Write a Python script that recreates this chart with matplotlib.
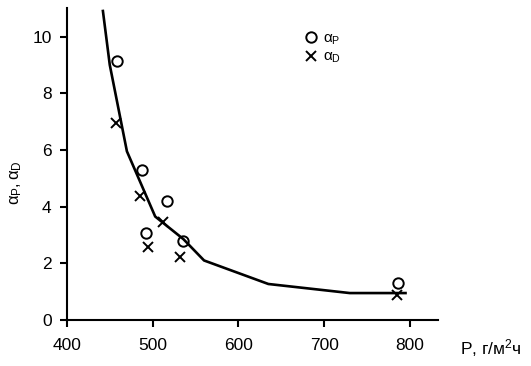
import matplotlib
matplotlib.use("Agg")
import matplotlib.pyplot as plt

plt.rcParams['font.family'] = ['Liberation Sans', 'DejaVu Sans']
plt.rcParams['mathtext.fontset'] = 'custom'
plt.rcParams['mathtext.rm'] = 'Liberation Sans'
plt.rcParams['mathtext.it'] = 'Liberation Sans'

# --- data ---
curve_p = [442, 450, 470, 503, 536, 560, 635, 730, 795]
curve_a = [10.9, 9.0, 5.95, 3.65, 2.85, 2.1, 1.27, 0.95, 0.95]

ap_p = [458, 488, 492, 517, 535, 786]
ap_a = [9.15, 5.28, 3.07, 4.18, 2.8, 1.3]

ad_p = [457, 485, 495, 512, 532, 785]
ad_a = [6.95, 4.36, 2.57, 3.47, 2.22, 0.88]

xticks = [400, 500, 600, 700, 800]
yticks = [0, 2, 4, 6, 8, 10]

fig = plt.figure(figsize=(5.31, 3.66), dpi=100)
ax = fig.add_axes([0.126, 0.1257, 0.699, 0.852])

ax.plot(curve_p, curve_a, color='black', linewidth=1.9)
ax.plot(ap_p, ap_a, linestyle='none', marker='o', markersize=7.5,
        markerfacecolor='none', markeredgecolor='black', markeredgewidth=1.4,
        label=r'$\alpha_{\rm P}$')
ax.plot(ad_p, ad_a, linestyle='none', marker='x', markersize=6.5,
        color='black', markeredgewidth=1.4, label=r'$\alpha_{\rm D}$')

ax.set_xlim(400, 833)
ax.set_ylim(0, 11)
ax.set_xticks(xticks)
ax.set_yticks(yticks)
ax.tick_params(direction='out', length=5, width=1.5, labelsize=12.5, pad=6)
ax.tick_params(axis='x', pad=8)
for s in ['top', 'right']:
    ax.spines[s].set_visible(False)
for s in ['left', 'bottom']:
    ax.spines[s].set_linewidth(1.5)

ax.set_ylabel(r'$\alpha_{\rm P}, \alpha_{\rm D}$', fontsize=12)
ax.yaxis.set_label_coords(-0.115, 0.44)
fig.text(0.867, 0.05, r'P, г/м$^2$ч', fontsize=12.5, ha='left', va='center')

ax.legend(loc='upper left', bbox_to_anchor=(0.62, 0.945), frameon=False,
          fontsize=11, handletextpad=0.3, labelspacing=0.2, handlelength=1.0,
          borderaxespad=0)

fig.savefig('out.png', dpi=100)
